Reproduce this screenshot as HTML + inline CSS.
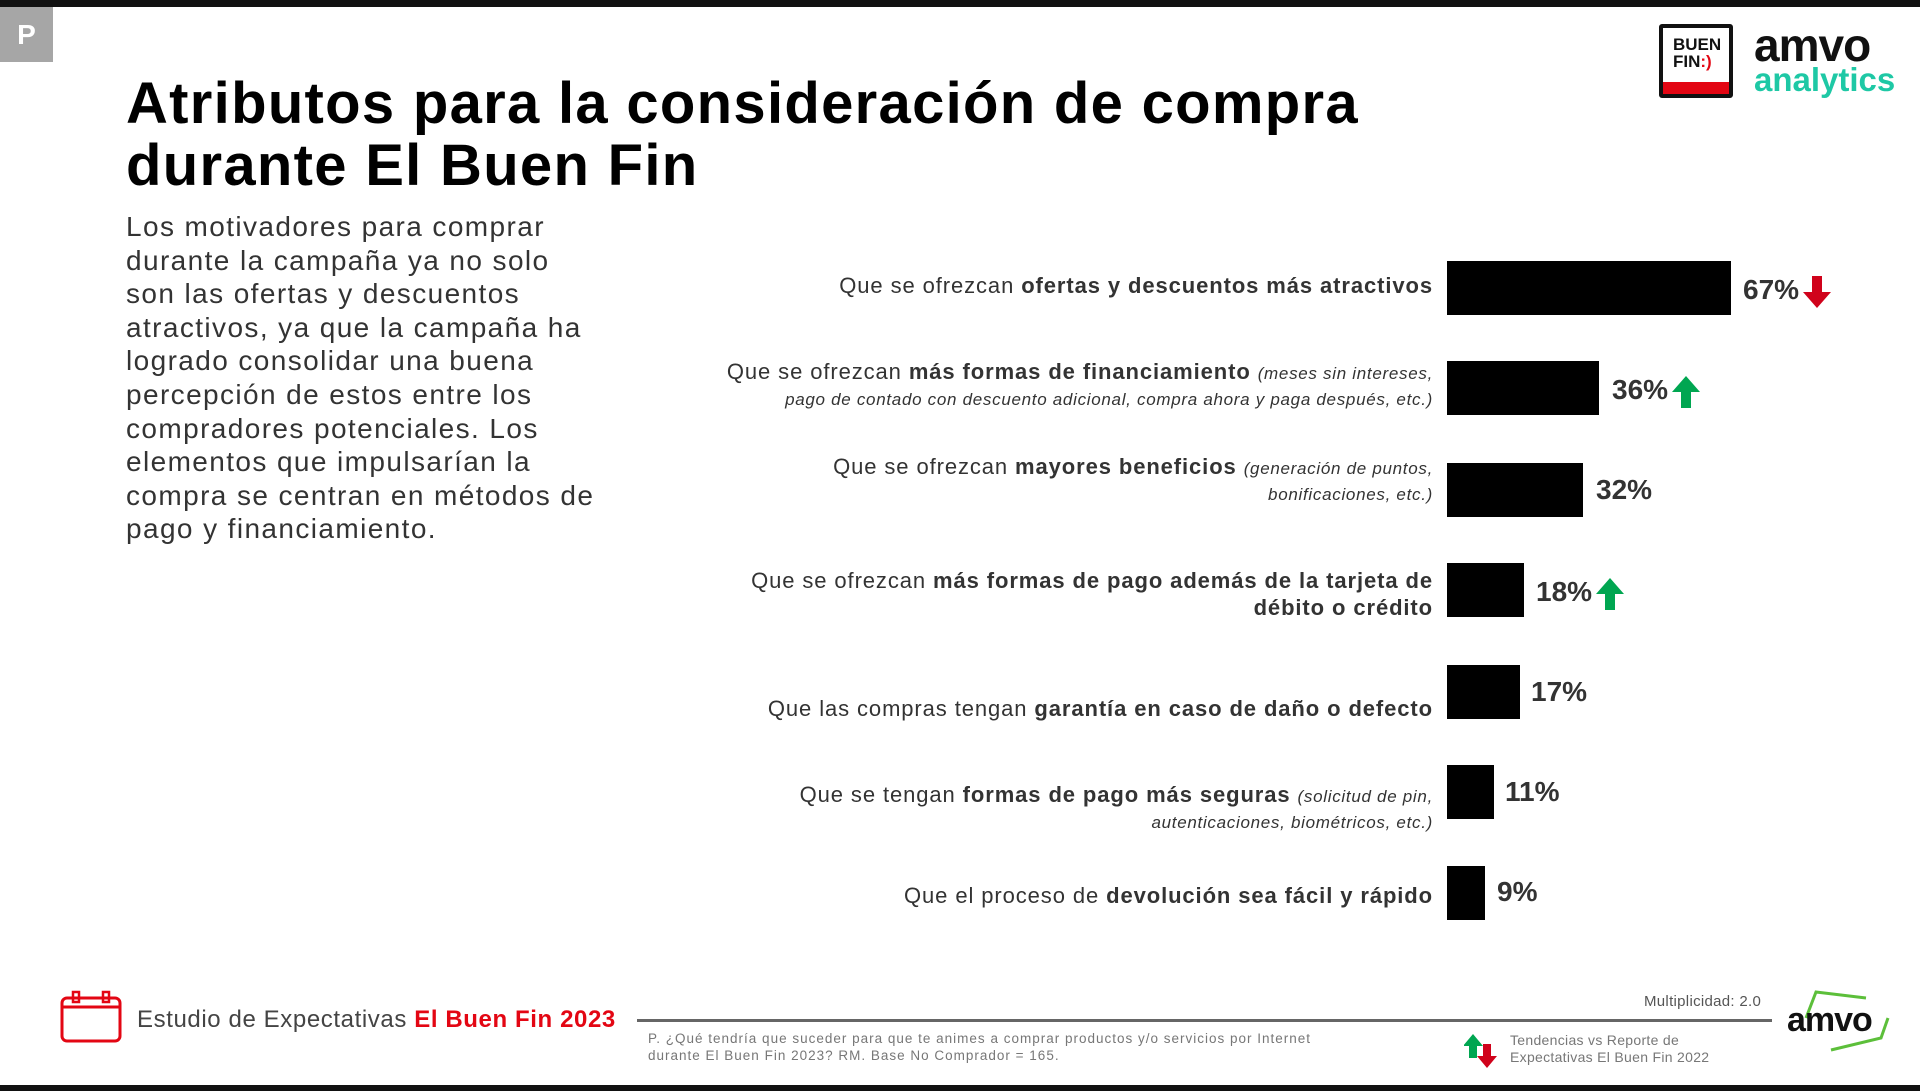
<!DOCTYPE html>
<html><head><meta charset="utf-8"><style>
*{margin:0;padding:0;box-sizing:border-box}
body{width:1920px;height:1091px;position:relative;background:#fff;font-family:"Liberation Sans",sans-serif;color:#222;overflow:hidden}
.a{position:absolute;white-space:nowrap}
.bar{position:absolute;left:1447px;height:54px;background:#000}
.pct{position:absolute;font-weight:bold;font-size:28px;color:#333;line-height:54px}
.lab{position:absolute;right:487px;text-align:right;font-size:22px;color:#333;line-height:24px;white-space:nowrap;letter-spacing:0.9px}
.lab i{font-size:17px;letter-spacing:0.7px}
.up{display:inline-block;vertical-align:middle;margin-left:4px}
</style></head><body>
<div class="a" style="left:0;top:0;width:1920px;height:7px;background:#111"></div>
<div class="a" style="left:0;top:1085px;width:1920px;height:6px;background:#111"></div>
<div class="a" style="left:0;top:7px;width:53px;height:55px;background:#a6a6a6;color:#fff;font-weight:bold;font-size:28px;line-height:55px;text-align:center">P</div>

<div class="a" style="left:126px;top:73px;font-size:58px;font-weight:bold;line-height:62px;color:#000;letter-spacing:1.3px">Atributos para la consideración de compra<br>durante El Buen Fin</div>

<div class="a" style="left:126px;top:210px;font-size:28px;line-height:33.6px;color:#333;letter-spacing:1.4px">Los motivadores para comprar<br>durante la campaña ya no solo<br>son las ofertas y descuentos<br>atractivos, ya que la campaña ha<br>logrado consolidar una buena<br>percepción de estos entre los<br>compradores potenciales. Los<br>elementos que impulsarían la<br>compra se centran en métodos de<br>pago y financiamiento.</div>

<div class="bar" style="top:261px;width:284px"></div>
<div class="bar" style="top:361px;width:152px"></div>
<div class="bar" style="top:463px;width:136px"></div>
<div class="bar" style="top:563px;width:77px"></div>
<div class="bar" style="top:665px;width:73px"></div>
<div class="bar" style="top:765px;width:47px"></div>
<div class="bar" style="top:866px;width:38px"></div>

<div class="pct" style="left:1743px;top:263px">67%<svg class="up" width="28" height="32" viewBox="0 0 28 32"><path d="M9 0h10v16h9L14 32 0 16h9z" fill="#d0021b"/></svg></div>
<div class="pct" style="left:1612px;top:363px">36%<svg class="up" width="28" height="32" viewBox="0 0 28 32"><path d="M9 32h10V16h9L14 0 0 16h9z" fill="#00a651"/></svg></div>
<div class="pct" style="left:1596px;top:463px">32%</div>
<div class="pct" style="left:1536px;top:565px">18%<svg class="up" width="28" height="32" viewBox="0 0 28 32"><path d="M9 32h10V16h9L14 0 0 16h9z" fill="#00a651"/></svg></div>
<div class="pct" style="left:1531px;top:665px">17%</div>
<div class="pct" style="left:1505px;top:765px">11%</div>
<div class="pct" style="left:1497px;top:865px">9%</div>

<div class="lab" style="top:274px">Que se ofrezcan <b>ofertas y descuentos más atractivos</b></div>
<div class="lab" style="top:360px">Que se ofrezcan <b>más formas de financiamiento</b> <i>(meses sin intereses,</i><br><i>pago de contado con descuento adicional, compra ahora y paga después, etc.)</i></div>
<div class="lab" style="top:455px">Que se ofrezcan <b>mayores beneficios</b> <i>(generación de puntos,</i><br><i>bonificaciones, etc.)</i></div>
<div class="lab" style="top:567px;line-height:27px">Que se ofrezcan <b>más formas de pago además de la tarjeta de</b><br><b>débito o crédito</b></div>
<div class="lab" style="top:697px">Que las compras tengan <b>garantía en caso de daño o defecto</b></div>
<div class="lab" style="top:783px">Que se tengan <b>formas de pago más seguras</b> <i>(solicitud de pin,</i><br><i>autenticaciones, biométricos, etc.)</i></div>
<div class="lab" style="top:884px">Que el proceso de <b>devolución sea fácil y rápido</b></div>

<div class="a" style="left:1659px;top:24px;width:74px;height:74px;border:4px solid #111;border-radius:3px;background:#fff">
 <div style="position:absolute;left:0;right:0;bottom:0;height:12px;background:#e30613"></div>
 <div style="position:absolute;left:10px;top:8px;font-weight:bold;font-size:17px;line-height:17px;color:#111">BUEN<br>FIN<span style="color:#e30613">:)</span></div>
</div>
<div class="a" style="left:1754px;top:20px;font-weight:bold;font-size:46px;line-height:50px;color:#111;letter-spacing:-1px">amvo</div>
<div class="a" style="left:1754px;top:60px;font-weight:bold;font-size:33px;line-height:40px;color:#1ec8a5">analytics</div>

<svg class="a" style="left:59px;top:990px" width="64" height="54" viewBox="0 0 64 54"><rect x="3" y="8" width="58" height="43" rx="5" fill="none" stroke="#e30613" stroke-width="3"/><line x1="3" y1="17" x2="61" y2="17" stroke="#e30613" stroke-width="3"/><rect x="14" y="2" width="6" height="10" fill="none" stroke="#e30613" stroke-width="2.5"/><rect x="44" y="2" width="6" height="10" fill="none" stroke="#e30613" stroke-width="2.5"/></svg>
<div class="a" style="left:137px;top:1005px;font-size:24px;line-height:30px;color:#444;letter-spacing:0.6px">Estudio de Expectativas <b style="color:#e30613">El Buen Fin 2023</b></div>
<div class="a" style="left:637px;top:1019px;width:1135px;height:3px;background:#666"></div>
<div class="a" style="left:648px;top:1030px;font-size:13.5px;line-height:17px;color:#777;letter-spacing:1px">P. ¿Qué tendría que suceder para que te animes a comprar productos y/o servicios por Internet<br>durante El Buen Fin 2023? RM. Base No Comprador = 165.</div>
<div class="a" style="left:1644px;top:993px;font-size:15px;color:#555;letter-spacing:0.3px">Multiplicidad: 2.0</div>
<svg class="a" style="left:1464px;top:1034px" width="38" height="34" viewBox="0 0 38 34"><path d="M5 24h8V12h6L9 0 -1 12h6z" fill="#00a651"/><path d="M19 10h8v12h6L23 34 13 22h6z" fill="#d0021b"/></svg>
<div class="a" style="left:1510px;top:1032px;font-size:14px;line-height:17px;color:#777;letter-spacing:0.3px">Tendencias vs Reporte de<br>Expectativas El Buen Fin 2022</div>
<svg class="a" style="left:1786px;top:990px" width="106" height="62" viewBox="0 0 106 62"><path d="M20 28 L30 2 L80 8" fill="none" stroke="#5cbf3a" stroke-width="3"/><path d="M45 60 L95 48 L102 28" fill="none" stroke="#5cbf3a" stroke-width="3"/></svg>
<div class="a" style="left:1787px;top:1000px;font-weight:bold;font-size:34px;line-height:40px;color:#111;letter-spacing:-1px">amvo</div>
</body></html>
